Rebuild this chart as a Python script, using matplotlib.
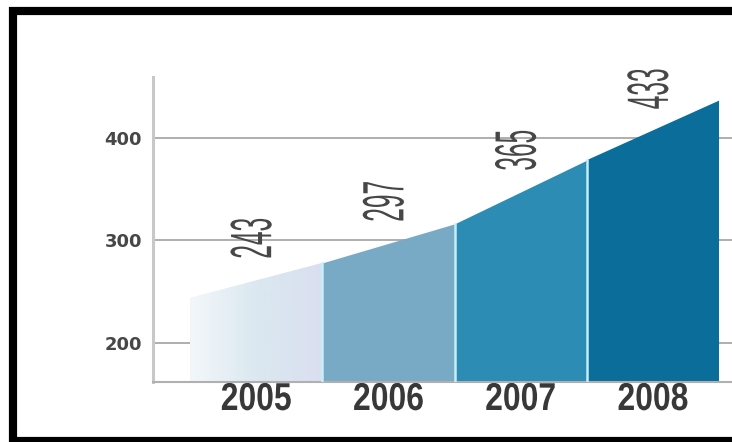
import numpy as np
import matplotlib
matplotlib.use('Agg')
import matplotlib.pyplot as plt
from matplotlib.lines import Line2D
from matplotlib.patheffects import AbstractPathEffect
from matplotlib.transforms import Affine2D

years = [2005, 2006, 2007, 2008]
values = [243, 297, 365, 433]            # numbers printed above the area
profile = [244, 278, 316, 378, 436]      # area height at the segment edges
colors = ['#dae8f0', '#78aac6', '#2c8cb4', '#0a6d9a']
yticks = [200, 300, 400]


class Squeeze(AbstractPathEffect):
    # narrow the glyphs along the baseline (condensed look), keep the centre
    def __init__(self, sx):
        super().__init__()
        self.sx = sx

    def draw_path(self, renderer, gc, tpath, affine, rgbFace=None):
        ext = tpath.get_extents()
        cx = (ext.x0 + ext.x1) / 2
        sq = Affine2D().translate(-cx, 0).scale(self.sx, 1).translate(cx, 0)
        renderer.draw_path(gc, tpath, sq + affine, rgbFace)


fig = plt.figure(figsize=(7.32, 4.42), dpi=100)
ax = fig.add_axes([153/732, 60/442, 579/732, 305/442])

for i, (yr, c) in enumerate(zip(years, colors)):
    xs = [yr - 0.5, yr + 0.5]
    poly = ax.fill_between(xs, [profile[i], profile[i+1]], 0, color=c, lw=0, zorder=2)
    if i == 0:
        # first block fades in from the left
        grad = np.linspace(0, 1, 256).reshape(1, -1)
        cmap = matplotlib.colors.LinearSegmentedColormap.from_list('fade', ['#f3f7fa', '#dbe8f0', '#dadff0'])
        im = ax.imshow(grad, cmap=cmap, extent=[yr - 0.5, yr + 0.5, 0, 500],
                       aspect='auto', zorder=2.1)
        im.set_clip_path(poly.get_paths()[0], transform=ax.transData)

# thin light separators between the years
for yr, h in zip(years[:-1], profile[1:-1]):
    ax.plot([yr + 0.5, yr + 0.5], [0, h], color='#c4eefa', lw=1.8, zorder=3)

for yr, v, lo, hi in zip(years, values, profile[:-1], profile[1:]):
    ax.annotate(str(v), xy=(yr, (lo + hi) / 2), xytext=(0, 42),
                textcoords='offset pixels', rotation=90, ha='center', va='center',
                fontsize=42, family='Liberation Sans', color='#474747',
                path_effects=[Squeeze(0.42)], zorder=4)

ax.set_xlim(2004.22, 2008.598)
ax.set_ylim(162, 459)
ax.set_yticks(yticks)
ax.set_xticks(years)
ax.set_xticklabels([str(y) for y in years], fontsize=28, family='Liberation Sans',
                   fontweight='bold', color='#383838')
for t in ax.get_xticklabels():
    t.set_path_effects([Squeeze(0.82)])
ax.set_yticklabels([str(v) for v in yticks], fontsize=13, fontweight='bold', color='#474747')
ax.tick_params(axis='both', length=0)
ax.tick_params(axis='y', pad=8)
ax.tick_params(axis='x', pad=0)

ax.set_axisbelow(True)
ax.grid(axis='y', color='#a8a8a8', lw=1.3)
ax.spines['top'].set_visible(False)
ax.spines['right'].set_visible(False)
ax.spines['left'].set_color('#c8c8c8')
ax.spines['left'].set_linewidth(2.2)
ax.spines['bottom'].set_color('#b0b0b0')
ax.spines['bottom'].set_linewidth(1.5)

# black frame of the scanned picture (left, top and bottom edges)
fx, ft, fb = 13/732, 1 - 10.5/442, 1/442
fig.add_artist(Line2D([fx, fx], [-0.01, ft + 4/442], transform=fig.transFigure,
                      color='black', lw=5.9, solid_capstyle='butt'))
for y in (ft, fb):
    fig.add_artist(Line2D([fx - 4/732, 1.0], [y, y], transform=fig.transFigure,
                          color='black', lw=5.9, solid_capstyle='butt'))

fig.savefig('out.png', dpi=100, facecolor='white')
